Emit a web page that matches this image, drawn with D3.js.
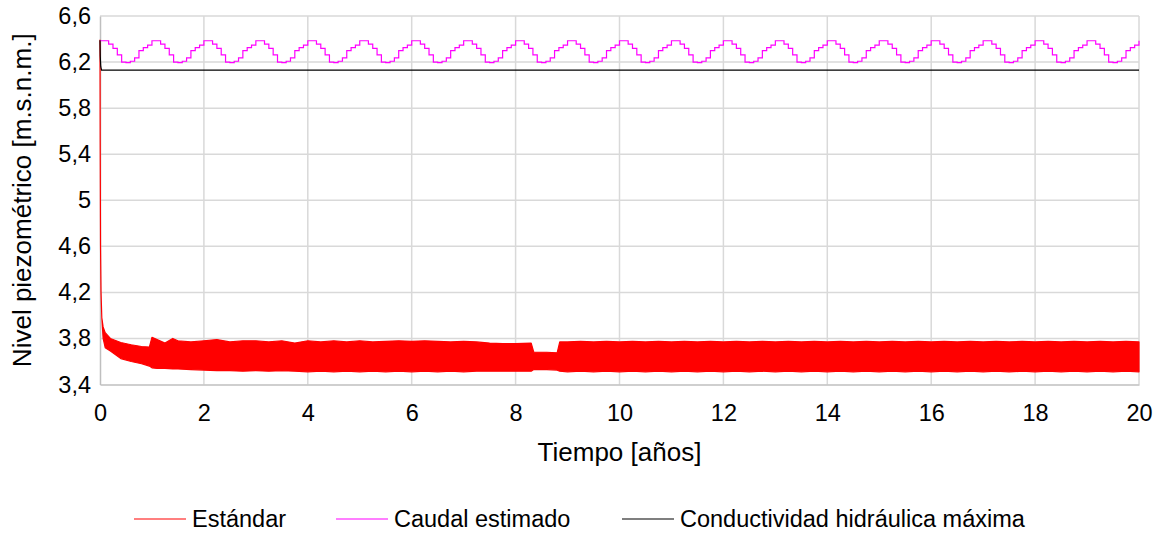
<!DOCTYPE html>
<html>
<head>
<meta charset="utf-8">
<script src="https://cdn.jsdelivr.net/npm/d3@7"></script>
<style>
  html, body { margin: 0; padding: 0; background: #fff; }
  svg text { font-family: "Liberation Sans", Arial, sans-serif; fill: #000; }
</style>
</head>
<body>
<svg id="chart" width="1158" height="533"></svg>
<script>
// Nivel piezométrico simulado (m.s.n.m.) para tres escenarios, 0–20 años.

// Escenario "Estándar": oscilación diaria densa, guardada como envolvente (máx./mín.)
const estandarTiempo = [0, 0.004, 0.01, 0.02, 0.035, 0.06, 0.1, 0.2, 0.4, 0.6, 0.8, 0.95,
  1.0, 1.1, 1.25, 1.4, 1.5, 1.75, 2.0, 2.25, 2.5, 2.75, 3.0, 3.25, 3.5, 3.75, 4.0, 4.25, 4.5, 4.75,
  5.0, 5.25, 5.5, 5.75, 6.0, 6.25, 6.5, 6.75, 7.0, 7.25, 7.5, 7.75, 8.0, 8.3, 8.35, 8.6, 8.8, 8.85,
  9.0, 9.25, 9.5, 9.75, 10.0, 10.25, 10.5, 10.75, 11.0, 11.25, 11.5, 11.75, 12.0, 12.25, 12.5, 12.75,
  13.0, 13.25, 13.5, 13.75, 14.0, 14.25, 14.5, 14.75, 15.0, 15.25, 15.5, 15.75, 16.0, 16.25, 16.5, 16.75,
  17.0, 17.25, 17.5, 17.75, 18.0, 18.25, 18.5, 18.75, 19.0, 19.25, 19.5, 19.75, 20.0];
const estandarMax = [6.39, 5.50, 4.60, 4.20, 3.98, 3.90, 3.85, 3.80, 3.765, 3.745, 3.73, 3.725,
  3.81, 3.79, 3.76, 3.80, 3.78, 3.77, 3.78, 3.79, 3.77, 3.78, 3.78, 3.77, 3.78, 3.76, 3.78, 3.77, 3.78, 3.77,
  3.78, 3.77, 3.775, 3.78, 3.775, 3.78, 3.775, 3.77, 3.775, 3.77, 3.76, 3.755, 3.755, 3.76, 3.68, 3.68, 3.675, 3.77,
  3.77, 3.775, 3.77, 3.775, 3.77, 3.775, 3.77, 3.775, 3.77, 3.775, 3.77, 3.775, 3.77, 3.775, 3.77, 3.775,
  3.77, 3.775, 3.77, 3.775, 3.77, 3.775, 3.77, 3.775, 3.77, 3.775, 3.77, 3.775, 3.77, 3.775, 3.77, 3.775,
  3.77, 3.775, 3.77, 3.775, 3.77, 3.775, 3.77, 3.775, 3.77, 3.775, 3.77, 3.775, 3.77];
const estandarMin = [6.39, 5.50, 4.60, 4.20, 3.98, 3.80, 3.72, 3.69, 3.625, 3.60, 3.58, 3.56,
  3.545, 3.54, 3.54, 3.535, 3.535, 3.53, 3.525, 3.52, 3.52, 3.515, 3.52, 3.515, 3.52, 3.515, 3.51, 3.515, 3.51, 3.515,
  3.51, 3.515, 3.51, 3.515, 3.51, 3.515, 3.51, 3.515, 3.51, 3.515, 3.515, 3.515, 3.515, 3.515, 3.53, 3.53, 3.525, 3.515,
  3.51, 3.515, 3.51, 3.515, 3.51, 3.515, 3.51, 3.515, 3.51, 3.515, 3.51, 3.515, 3.51, 3.515, 3.51, 3.515,
  3.51, 3.515, 3.51, 3.515, 3.51, 3.515, 3.51, 3.515, 3.51, 3.515, 3.51, 3.515, 3.51, 3.515, 3.51, 3.515,
  3.51, 3.515, 3.51, 3.515, 3.51, 3.515, 3.51, 3.515, 3.51, 3.515, 3.51, 3.515, 3.51];

// Escenario "Caudal estimado": nivel mensual escalonado, mismo ciclo cada año
const caudalMeses = [6.385, 6.385, 6.355, 6.318, 6.262, 6.200, 6.195, 6.207, 6.236, 6.300, 6.325, 6.347];
const caudalAnios = 20;

// Escenario "Conductividad hidráulica máxima"
const conductividadTiempo = [0, 0.005, 0.015, 0.03, 20];
const conductividadNivel = [6.39, 6.25, 6.16, 6.13, 6.13];

const xTicks = [0, 2, 4, 6, 8, 10, 12, 14, 16, 18, 20];
const yTicks = [3.4, 3.8, 4.2, 4.6, 5, 5.4, 5.8, 6.2, 6.6];

const series = [
  { nombre: "Estándar", color: "#ff0000" },
  { nombre: "Caudal estimado", color: "#ff00ff" },
  { nombre: "Conductividad hidráulica máxima", color: "#000000" }
];

const svg = d3.select("#chart");
const plot = { left: 100, right: 1139, top: 16, bottom: 384.5 };

const x = d3.scaleLinear().domain([0, 20]).range([plot.left, plot.right]);
const y = d3.scaleLinear().domain([3.4, 6.6]).range([plot.bottom, plot.top]);
const coma = v => String(v).replace(".", ",");

// Cuadrícula
const grid = svg.append("g");
grid.selectAll("line.h").data(yTicks.slice(1)).join("line")
  .attr("x1", plot.left).attr("x2", plot.right)
  .attr("y1", d => y(d)).attr("y2", d => y(d))
  .attr("stroke", "#d9d9d9").attr("stroke-width", 1.5);
grid.selectAll("line.v").data(xTicks.slice(1)).join("line")
  .attr("x1", d => x(d)).attr("x2", d => x(d))
  .attr("y1", plot.top).attr("y2", plot.bottom)
  .attr("stroke", "#d9d9d9").attr("stroke-width", 1.5);

// Ejes
const xAxis = svg.append("g").attr("transform", `translate(0,${plot.bottom})`)
  .call(d3.axisBottom(x).tickValues(xTicks).tickSize(0).tickPadding(20).tickFormat(coma));
const yAxis = svg.append("g").attr("transform", `translate(${plot.left},0)`)
  .call(d3.axisLeft(y).tickValues(yTicks).tickSize(0).tickPadding(9).tickFormat(coma));
[xAxis, yAxis].forEach(a => {
  a.select(".domain").attr("stroke", "#bfbfbf").attr("stroke-width", 1.5);
  a.selectAll("text").attr("font-size", 23.5).attr("font-family", "Liberation Sans, Arial, sans-serif");
});

// Serie "Estándar" (envolvente de la oscilación)
const estandar = estandarTiempo.map((t, i) => ({ t, hi: estandarMax[i], lo: estandarMin[i] }));
svg.append("path").datum(estandar)
  .attr("d", d3.area().x(d => x(d.t)).y0(d => y(d.lo)).y1(d => y(d.hi)))
  .attr("fill", series[0].color).attr("stroke", series[0].color)
  .attr("stroke-width", 1.2).attr("stroke-linejoin", "round");

// Serie "Caudal estimado"
const caudal = [];
for (let a = 0; a < caudalAnios; a++) {
  caudalMeses.forEach((v, m) => caudal.push({ t: a + m / 12, v }));
}
caudal.push({ t: caudalAnios, v: caudalMeses[0] });
svg.append("path").datum(caudal)
  .attr("d", d3.line().x(d => x(d.t)).y(d => y(d.v)).curve(d3.curveStepAfter))
  .attr("fill", "none").attr("stroke", series[1].color).attr("stroke-width", 1.2);

// Serie "Conductividad hidráulica máxima"
const conductividad = conductividadTiempo.map((t, i) => ({ t, v: conductividadNivel[i] }));
svg.append("path").datum(conductividad)
  .attr("d", d3.line().x(d => x(d.t)).y(d => y(d.v)))
  .attr("fill", "none").attr("stroke", series[2].color).attr("stroke-width", 1.2);

// Títulos de ejes
svg.append("text").attr("x", (plot.left + plot.right) / 2).attr("y", 461)
  .attr("text-anchor", "middle").attr("font-size", 26).text("Tiempo [años]");
svg.append("text").attr("transform", `translate(31,${(plot.top + plot.bottom) / 2}) rotate(-90)`)
  .attr("text-anchor", "middle").attr("font-size", 26).text("Nivel piezométrico [m.s.n.m.]");

// Leyenda
const legendX = [134, 336, 622];
const leg = svg.append("g").selectAll("g").data(series).join("g")
  .attr("transform", (d, i) => `translate(${legendX[i]},519)`);
leg.append("line").attr("x1", 0).attr("x2", 52).attr("y1", 0).attr("y2", 0)
  .attr("stroke", d => d.color).attr("stroke-width", 1.2);
leg.append("text").attr("x", 58).attr("y", 0).attr("dy", "0.35em")
  .attr("font-size", 23.5).text(d => d.nombre);
</script>
</body>
</html>
